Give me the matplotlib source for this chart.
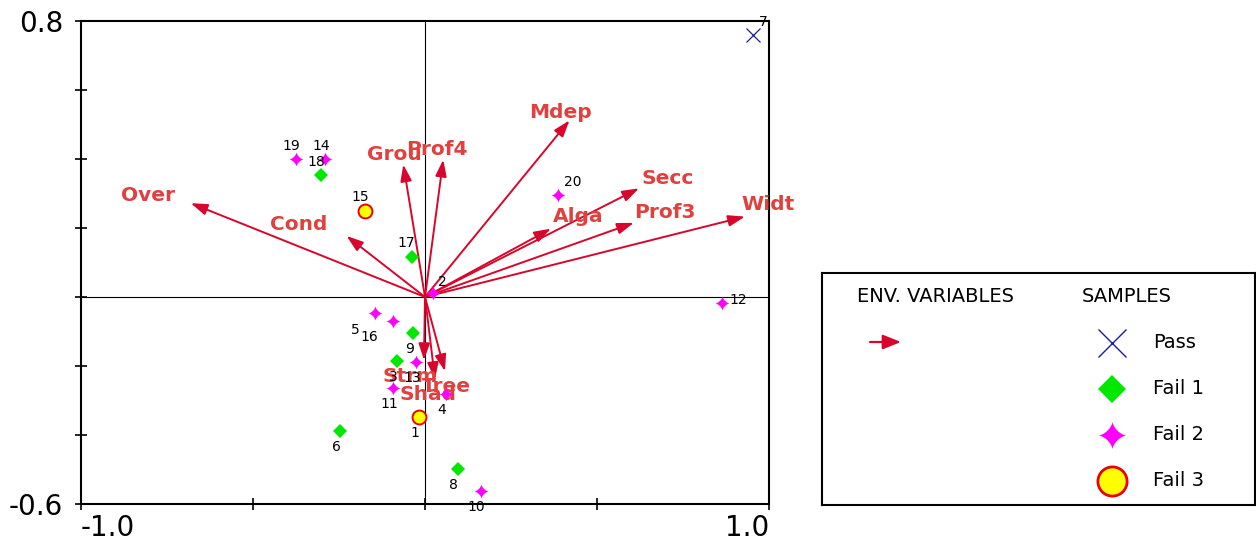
import numpy as np
import matplotlib
matplotlib.use("Agg")
import matplotlib.pyplot as plt
from matplotlib.path import Path

# sample scores (axis 1, axis 2) and their class
sample_ids = list(range(1, 21))
sample_x = [-0.017, 0.022, -0.080, 0.061, -0.145, -0.247, 0.953, 0.095, -0.034, 0.162,
            -0.092, 0.863, -0.026, -0.291, -0.174, -0.092, -0.039, -0.302, -0.376, 0.386]
sample_y = [-0.348, 0.011, -0.185, -0.282, -0.047, -0.389, 0.759, -0.498, -0.104, -0.563,
            -0.263, -0.017, -0.188, 0.400, 0.248, -0.069, 0.117, 0.353, 0.400, 0.296]
sample_class = ["Fail 3", "Fail 2", "Fail 1", "Fail 2", "Fail 2", "Fail 1", "Pass", "Fail 1",
                "Fail 1", "Fail 2", "Fail 2", "Fail 2", "Fail 2", "Fail 2", "Fail 3", "Fail 2",
                "Fail 1", "Fail 1", "Fail 2", "Fail 2"]

# environmental variable arrows
env_names = ["Over", "Cond", "Grou", "Prof4", "Mdep", "Alga", "Secc", "Prof3", "Widt",
             "Strm", "Shad", "Tree"]
env_x = [-0.681, -0.228, -0.063, 0.053, 0.420, 0.366, 0.622, 0.607, 0.930, -0.003, 0.029, 0.058]
env_y = [0.272, 0.177, 0.384, 0.398, 0.512, 0.198, 0.315, 0.215, 0.233, -0.183, -0.238, -0.215]

classes = ["Pass", "Fail 1", "Fail 2", "Fail 3"]

# label offsets (pixels) from arrow tips
env_offset = {"Over": (-43, 8), "Cond": (-48, 11), "Grou": (-9, 10), "Prof4": (-6, 10),
              "Mdep": (-9, 8), "Alga": (27, 12), "Secc": (29, 10), "Prof3": (31, 10),
              "Widt": (23, 12), "Strm": (-14, -16), "Shad": (-7, -15), "Tree": (1, -15)}
# sample number offsets (pixels); default sits just below left
num_offset = {2: (10, 11), 5: (-20, -17), 16: (-24, -16), 7: (10, 13), 12: (16, 3),
              20: (15, 13), 15: (-5, 14), 17: (-5, 14), 18: (-5, 13), 19: (-4, 13),
              14: (-4, 13)}

# four pointed star with concave sides
t = np.linspace(0, 2 * np.pi, 81)
star = Path(np.column_stack([np.cos(t) ** 3, np.sin(t) ** 3]), closed=True)

ARROW = "#d8062c"
LABEL = "#e2403f"

style = {
    "Pass": dict(marker="x", color="#1c1ca0", mew=0.9, ms=9.5, mfc="none"),
    "Fail 1": dict(marker="D", color="#00e800", mec="#00e800", mew=0, ms=6.8),
    "Fail 2": dict(marker=star, color="#ff00ff", mec="#ff00ff", mew=0, ms=10.5),
    "Fail 3": dict(marker="o", mfc="#ffff00", mec="#ee0000", mew=1.4, ms=10),
}
legend_ms = {"Pass": 20, "Fail 1": 14.5, "Fail 2": 20, "Fail 3": 21}

fig = plt.figure(figsize=(12.56, 5.42), dpi=100)
ax = fig.add_axes([81 / 1256, 38 / 542, 688 / 1256, 483 / 542])
ax.set_xlim(-1, 1)
ax.set_ylim(-0.6, 0.8)

ax.axhline(0, color="black", lw=0.8, zorder=1)
ax.axvline(0, color="black", lw=0.8, zorder=1)

for name, ex, ey in zip(env_names, env_x, env_y):
    ax.annotate("", xy=(ex, ey), xytext=(0, 0),
                arrowprops=dict(arrowstyle="-|>,head_length=0.5,head_width=0.17",
                                color=ARROW, lw=1.4, mutation_scale=20,
                                shrinkA=0, shrinkB=0), zorder=2)
    ax.annotate(name, xy=(ex, ey), xytext=env_offset[name], textcoords="offset pixels",
                ha="center", va="center", color=LABEL, fontsize=14.5, fontweight="bold",
                zorder=3)

for c in classes:
    idx = [i for i, s in enumerate(sample_class) if s == c]
    ax.plot([sample_x[i] for i in idx], [sample_y[i] for i in idx], ls="none",
            zorder=4, **style[c])

for sid, sx, sy in zip(sample_ids, sample_x, sample_y):
    ax.annotate(str(sid), xy=(sx, sy), xytext=num_offset.get(sid, (-4, -16)),
                textcoords="offset pixels", ha="center", va="center", fontsize=10,
                color="black", zorder=5, annotation_clip=False)

for sp in ax.spines.values():
    sp.set_linewidth(1.5)
ax.set_xticks([-1, -0.5, 0, 0.5, 1], ["-1.0", "", "", "", "1.0"])
ax.set_yticks(np.round(np.arange(-0.6, 0.81, 0.2), 1),
              ["-0.6", "", "", "", "", "", "", "0.8"])
ax.tick_params(direction="inout", length=8, width=1.2, labelsize=20)
ax.tick_params(axis="x", pad=3)
ax.tick_params(axis="y", pad=9)
xl = ax.get_xticklabels()
xl[0].set_ha("left")
xl[-1].set_ha("right")

# legend box
lax = fig.add_axes([822 / 1256, 37 / 542, 433 / 1256, 232 / 542])
lax.set_xlim(822, 1255)
lax.set_ylim(505, 273)
lax.set_xticks([])
lax.set_yticks([])
for sp in lax.spines.values():
    sp.set_linewidth(1.5)

lax.text(857, 297, "ENV. VARIABLES", fontsize=14, va="center", ha="left")
lax.text(1082, 297, "SAMPLES", fontsize=14, va="center", ha="left")
lax.annotate("", xy=(901, 342), xytext=(870, 342),
             arrowprops=dict(arrowstyle="-|>,head_length=0.55,head_width=0.22",
                             color=ARROW, lw=1.6, mutation_scale=20,
                             shrinkA=0, shrinkB=0))
for c, ly in zip(classes, [343, 389, 435, 481]):
    st = dict(style[c])
    st["ms"] = legend_ms[c]
    if c == "Pass":
        st["mew"] = 1.0
    if c == "Fail 3":
        st["mew"] = 2.0
    lax.plot([1112], [ly], ls="none", **st)
    lax.text(1153, ly, c, fontsize=14, va="center", ha="left")

fig.savefig("out.png", dpi=100)
